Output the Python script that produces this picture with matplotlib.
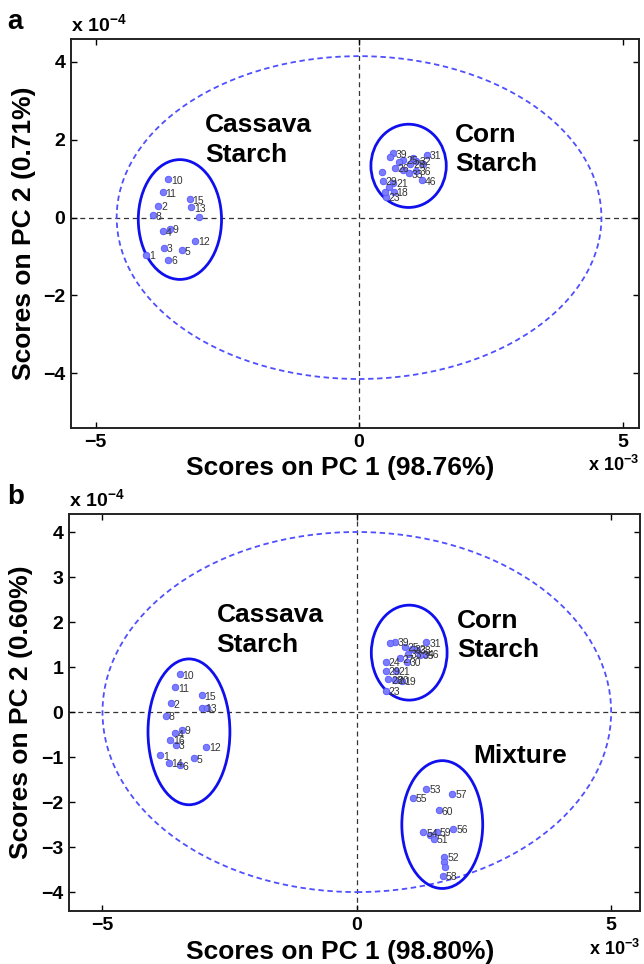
import matplotlib.pyplot as plt
from matplotlib.patches import Ellipse

plt.rcParams['font.family'] = ['Liberation Sans', 'DejaVu Sans']
plt.rcParams['mathtext.fontset'] = 'custom'
plt.rcParams['mathtext.bf'] = 'Liberation Sans:bold'
plt.rcParams['mathtext.rm'] = 'Liberation Sans:bold'

# PC1 scores are in units of 1e-3, PC2 scores in units of 1e-4

# ---- panel a: cassava vs corn starch
cassava_a_labels = ['10', '11', '15', '13', '', '2', '8', '9', '4', '12', '3', '5', '1', '6']
cassava_a_pc1 = [-3.62, -3.73, -3.21, -3.19, -3.04, -3.81, -3.91, -3.59, -3.73, -3.11, -3.71, -3.36, -4.04, -3.62]
cassava_a_pc2 = [0.98, 0.65, 0.47, 0.26, 0.02, 0.30, 0.06, -0.29, -0.35, -0.60, -0.78, -0.84, -0.95, -1.09]

corn_a_labels = ['39', '31', '32', '', '25', '28', '26', '33', '36', '46', '29', '21', '',
                 '18', '23', '', '', '', '', '', '']
corn_a_pc1 = [0.64, 1.28, 1.09, 0.59, 0.84, 0.97, 0.68, 0.94, 1.09, 1.19, 0.45, 0.65, 0.43,
              0.66, 0.51, 0.56, 0.49, 0.84, 1.03, 1.22, 0.75]
corn_a_pc2 = [1.65, 1.62, 1.46, 1.56, 1.48, 1.39, 1.28, 1.14, 1.20, 0.96, 0.94, 0.90, 1.18,
              0.66, 0.53, 0.79, 0.66, 1.22, 1.52, 1.39, 1.43]

# ---- panel b: cassava, corn and mixtures
cassava_b_labels = ['10', '11', '15', '13', '', '2', '8', '9', '4', '16', '3', '12', '1', '5', '14', '6']
cassava_b_pc1 = [-3.48, -3.57, -3.05, -3.04, -2.95, -3.66, -3.76, -3.44, -3.58, -3.67, -3.55,
                 -2.96, -3.86, -3.20, -3.70, -3.48]
cassava_b_pc2 = [0.84, 0.55, 0.37, 0.10, 0.10, 0.19, -0.08, -0.40, -0.47, -0.62, -0.73,
                 -0.77, -0.96, -1.03, -1.13, -1.18]

corn_b_labels = ['39', '31', '', '25', '32', '38', '46', '35', '33', '24', '27', '30',
                 '29', '21', '28', '20', '19', '23']
corn_b_pc1 = [0.75, 1.37, 0.65, 0.94, 1.08, 1.18, 1.34, 1.24, 1.01, 0.57, 0.85, 0.98,
              0.57, 0.77, 0.62, 0.75, 0.88, 0.57]
corn_b_pc2 = [1.56, 1.55, 1.54, 1.45, 1.41, 1.38, 1.30, 1.27, 1.30, 1.12, 1.19, 1.12,
              0.92, 0.92, 0.73, 0.71, 0.70, 0.47]

mix_b_labels = ['53', '55', '57', '60', '54', '', '59', '51', '56', '52', '', '', '58']
mix_b_pc1 = [1.37, 1.11, 1.88, 1.62, 1.31, 1.44, 1.57, 1.52, 1.90, 1.72, 1.72, 1.73, 1.69]
mix_b_pc2 = [-1.71, -1.90, -1.82, -2.18, -2.67, -2.73, -2.66, -2.82, -2.60, -3.22, -3.33, -3.44, -3.64]

# class ellipses: (centre pc1, centre pc2, width, height)
ellipses_a = [(-3.40, -0.05, 1.58, 3.08), (0.94, 1.33, 1.43, 2.14)]
ellipses_b = [(-3.30, -0.44, 1.61, 3.24), (1.03, 1.32, 1.49, 2.11), (1.68, -2.50, 1.59, 2.84)]
# 95% confidence limit (semi-axes)
limit_a = (4.6, 4.15)
limit_b = (5.0, 4.0)

fig = plt.figure(figsize=(6.44, 9.64), dpi=100)
ax_a = fig.add_axes([0.110, 0.556, 0.882, 0.4035])
ax_b = fig.add_axes([0.107, 0.055, 0.887, 0.4118])


def draw_scores(ax, groups, ellipses, limit, xlim, ylim, yticks, pc1_pct, pc2_pct):
    ax.axhline(0, color='#333333', lw=0.9, ls=(0, (4, 3)), zorder=1)
    ax.axvline(0, color='#333333', lw=0.9, ls=(0, (4, 3)), zorder=1)
    ax.add_patch(Ellipse((0, 0), 2 * limit[0], 2 * limit[1], fill=False,
                         ec='#4f4fff', lw=1.3, ls=(0, (3, 2)), zorder=2))
    for cx, cy, w, h in ellipses:
        ax.add_patch(Ellipse((cx, cy), w, h, fill=False, ec='#1010ee', lw=2, zorder=3))
    for labels, xs, ys in groups:
        ax.scatter(xs, ys, s=22, c='#7c7cff', edgecolors='#5656ff', linewidths=0.6, zorder=4)
        for lab, x, y in zip(labels, xs, ys):
            if lab:
                ax.annotate(lab, (x, y), xytext=(2, -1), textcoords='offset points',
                            fontsize=7.5, color='#333333', va='center', zorder=5)
    ax.set_xlim(*xlim)
    ax.set_ylim(*ylim)
    ax.set_xticks([-5, 0, 5])
    ax.set_yticks(yticks)
    ax.tick_params(direction='in', top=True, right=True, length=4, width=1,
                   labelsize=14, pad=4)
    for lab in ax.get_xticklabels() + ax.get_yticklabels():
        lab.set_fontweight('bold')
    for sp in ax.spines.values():
        sp.set_linewidth(1.4)
        sp.set_color('#222222')
    ax.set_xlabel(f'Scores on PC 1 ({pc1_pct})', fontsize=19, fontweight='bold')
    ax.xaxis.set_label_coords(0.475, -0.072)
    ax.set_ylabel(f'Scores on PC 2 ({pc2_pct})', fontsize=19, fontweight='bold')
    ax.yaxis.set_label_coords(-0.062, 0.5)
    ax.text(0.0, 1.008, r'x 10$^{\mathbf{-4}}$', transform=ax.transAxes, ha='left',
            va='bottom', fontsize=14, fontweight='bold')
    ax.text(1.0, -0.07, r'x 10$^{\mathbf{-3}}$', transform=ax.transAxes, ha='right',
            va='top', fontsize=13, fontweight='bold')


draw_scores(ax_a,
            [(cassava_a_labels, cassava_a_pc1, cassava_a_pc2),
             (corn_a_labels, corn_a_pc1, corn_a_pc2)],
            ellipses_a, limit_a, (-5.47, 5.31), (-5.41, 4.59), [-4, -2, 0, 2, 4],
            '98.76%', '0.71%')
ax_a.text(-2.92, 2.0, 'Cassava\nStarch', fontsize=19, fontweight='bold', va='center',
          linespacing=1.3)
ax_a.text(1.82, 1.75, 'Corn\nStarch', fontsize=19, fontweight='bold', va='center',
          linespacing=1.3)

draw_scores(ax_b,
            [(cassava_b_labels, cassava_b_pc1, cassava_b_pc2),
             (corn_b_labels, corn_b_pc1, corn_b_pc2),
             (mix_b_labels, mix_b_pc1, mix_b_pc2)],
            ellipses_b, limit_b, (-5.66, 5.57), (-4.42, 4.4), [-4, -3, -2, -1, 0, 1, 2, 3, 4],
            '98.80%', '0.60%')
ax_b.text(-2.76, 1.82, 'Cassava\nStarch', fontsize=19, fontweight='bold', va='center',
          linespacing=1.3)
ax_b.text(1.97, 1.70, 'Corn\nStarch', fontsize=19, fontweight='bold', va='center',
          linespacing=1.3)
ax_b.text(2.28, -0.98, 'Mixture', fontsize=19, fontweight='bold', va='center')

fig.text(0.012, 1 - 22 / 964, 'a', fontsize=20, fontweight='bold', va='center')
fig.text(0.012, 1 - 497 / 964, 'b', fontsize=20, fontweight='bold', va='center')

fig.savefig('out.png', dpi=100)
